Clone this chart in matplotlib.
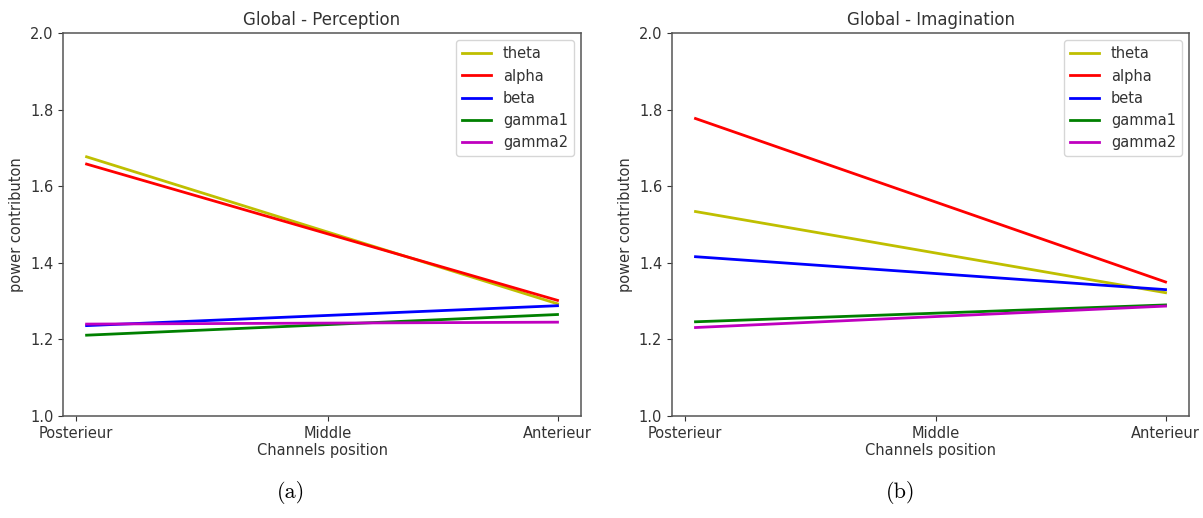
import matplotlib
matplotlib.use("Agg")
import matplotlib.pyplot as plt

# channel index range of the fitted lines, and the position ticks
x_fit = [1, 44]
tick_pos = [0, 23, 44]
tick_labels = ["Posterieur", "Middle", "Anterieur"]

bands = ["theta", "alpha", "beta", "gamma1", "gamma2"]
colors = ["y", "r", "b", "g", "m"]

# fitted power contribution at posterior / anterior end
perception = {
    "theta": [1.677, 1.293],
    "alpha": [1.658, 1.302],
    "beta": [1.236, 1.288],
    "gamma1": [1.211, 1.265],
    "gamma2": [1.240, 1.245],
}
imagination = {
    "theta": [1.534, 1.322],
    "alpha": [1.777, 1.350],
    "beta": [1.416, 1.330],
    "gamma1": [1.246, 1.290],
    "gamma2": [1.231, 1.287],
}

fig = plt.figure(figsize=(12.03, 5.18), dpi=100)
ax1 = fig.add_axes([0.0524, 0.197, 0.4306, 0.739])
ax2 = fig.add_axes([0.5586, 0.197, 0.4298, 0.739])

txt = "#333333"
for ax, data, title in [(ax1, perception, "Global - Perception"),
                        (ax2, imagination, "Global - Imagination")]:
    for band, c in zip(bands, colors):
        ax.plot(x_fit, data[band], color=c, lw=2.0, label=band)
    ax.set_ylim(1.0, 2.0)
    ax.set_yticks([1.0, 1.2, 1.4, 1.6, 1.8, 2.0])
    ax.set_xticks(tick_pos)
    ax.set_xticklabels(tick_labels)
    ax.tick_params(labelsize=10.5, colors=txt)
    ax.set_title(title, fontsize=12, color=txt)
    ax.set_xlabel("Channels position", fontsize=10.5, color=txt, labelpad=2)
    ax.set_ylabel("power contributon", fontsize=10.5, color=txt)
    for s in ax.spines.values():
        s.set_color("#555555")
        s.set_linewidth(1.1)
    leg = ax.legend(loc="upper right", fontsize=10.5)
    for t in leg.get_texts():
        t.set_color(txt)

fig.text(291 / 1203, 1 - 493 / 518, "(a)", fontsize=16, family="cmr10",
         ha="center", va="center")
fig.text(901 / 1203, 1 - 493 / 518, "(b)", fontsize=16, family="cmr10",
         ha="center", va="center")

fig.savefig("out.png", dpi=100)
